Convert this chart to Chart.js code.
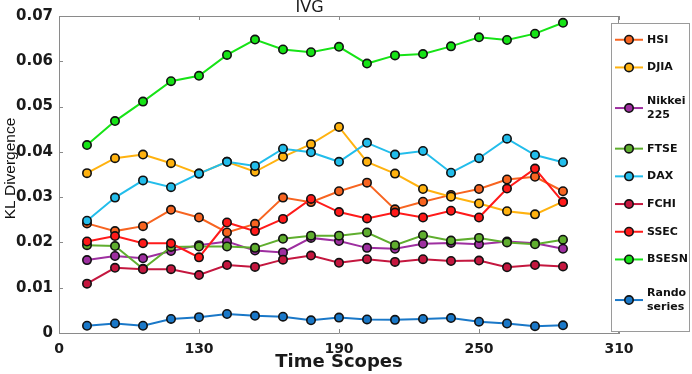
<!DOCTYPE html>
<html><head><meta charset="utf-8">
<script src="https://cdn.jsdelivr.net/npm/chart.js@4.4.0/dist/chart.umd.min.js"></script>
<style>html,body{margin:0;padding:0;background:#fff}canvas{display:block}</style>
</head><body>
<canvas id="c" width="692" height="374"></canvas>
<script>
// ---- data ----
const timeScopes = [82, 94, 106, 118, 130, 142, 154, 166, 178, 190, 202, 214, 226, 238, 250, 262, 274, 286];
const xTickValues = [70, 130, 190, 250, 310];
const xTickLabels = ['0', '130', '190', '250', '310'];
const yTickValues = [0, 0.01, 0.02, 0.03, 0.04, 0.05, 0.06, 0.07];
const yTickLabels = ['0', '0.01', '0.02', '0.03', '0.04', '0.05', '0.06', '0.07'];
const seriesNames = ['HSI', 'DJIA', 'Nikkei 225', 'FTSE', 'DAX', 'FCHI', 'SSEC', 'BSESN', 'Rando series'];

const hsi    = [0.0242,0.0225,0.0236,0.0272,0.0255,0.0222,0.0241,0.0299,0.0289,0.0313,0.0332,0.0273,0.0290,0.0305,0.0318,0.0339,0.0345,0.0313];
const djia   = [0.0353,0.0386,0.0394,0.0375,0.0352,0.0378,0.0356,0.0389,0.0417,0.0455,0.0378,0.0352,0.0318,0.0301,0.0286,0.0269,0.0262,0.0290];
const nikkei = [0.0161,0.0170,0.0165,0.0181,0.0194,0.0202,0.0182,0.0178,0.0210,0.0203,0.0188,0.0186,0.0197,0.0199,0.0196,0.0202,0.0198,0.0186];
const ftse   = [0.0194,0.0192,0.0142,0.0190,0.0191,0.0191,0.0188,0.0208,0.0215,0.0215,0.0222,0.0194,0.0216,0.0204,0.0210,0.0200,0.0196,0.0206];
const dax    = [0.0248,0.0299,0.0337,0.0322,0.0352,0.0378,0.0369,0.0407,0.0399,0.0378,0.0420,0.0394,0.0402,0.0354,0.0386,0.0429,0.0393,0.0377];
const fchi   = [0.0109,0.0144,0.0141,0.0141,0.0128,0.0150,0.0146,0.0162,0.0171,0.0155,0.0163,0.0157,0.0163,0.0159,0.0160,0.0145,0.0150,0.0147];
const ssec   = [0.0202,0.0214,0.0198,0.0198,0.0167,0.0244,0.0225,0.0252,0.0296,0.0267,0.0253,0.0266,0.0255,0.0270,0.0255,0.0319,0.0363,0.0289];
const bsesn  = [0.0415,0.0468,0.0511,0.0556,0.0568,0.0614,0.0648,0.0626,0.0620,0.0632,0.0595,0.0613,0.0616,0.0633,0.0653,0.0647,0.0661,0.0685];
const randomSeries = [0.0016,0.0021,0.0016,0.0031,0.0035,0.0042,0.0038,0.0036,0.0028,0.0034,0.0030,0.0029,0.0031,0.0033,0.0025,0.0021,0.0015,0.0017];

const seriesValues = [hsi, djia, nikkei, ftse, dax, fchi, ssec, bsesn, randomSeries];
const seriesColors = ['#F76420', '#FFB20F', '#9E2FA0', '#5FAE2E', '#22BDEB', '#C4173F', '#FF1A1A', '#16E316', '#1A78C8'];

// ---- chart ----
const N = seriesValues.length;
const datasets = seriesValues.map((vals, i) => ({
  label: seriesNames[i],
  data: vals.map((v, k) => ({x: timeScopes[k], y: v})),
  borderColor: seriesColors[i],
  backgroundColor: seriesColors[i],
  pointBackgroundColor: seriesColors[i],
  pointBorderColor: '#111',
  pointBorderWidth: 1.6,
  pointRadius: 4.2,
  borderWidth: 2,
  tension: 0,
  order: N - i
}));

const GRAY = '#8a8a8a';

const framePlugin = {
  id: 'frame',
  beforeDatasetsDraw(chart) {
    const {ctx, chartArea: a, scales} = chart;
    ctx.save();
    ctx.strokeStyle = GRAY; ctx.lineWidth = 1;
    ctx.beginPath();
    ctx.moveTo(a.left, a.top + 0.5); ctx.lineTo(a.right, a.top + 0.5);
    ctx.moveTo(a.right - 0.5, a.top); ctx.lineTo(a.right - 0.5, a.bottom);
    xTickValues.forEach(v => {
      const px = Math.round(scales.x.getPixelForValue(v)) + 0.5;
      ctx.moveTo(px, a.bottom); ctx.lineTo(px, a.bottom - 4);
      ctx.moveTo(px, a.top); ctx.lineTo(px, a.top + 4);
    });
    yTickValues.forEach(v => {
      const py = Math.round(scales.y.getPixelForValue(v)) + 0.5;
      ctx.moveTo(a.left, py); ctx.lineTo(a.left + 4, py);
      ctx.moveTo(a.right, py); ctx.lineTo(a.right - 4, py);
    });
    ctx.stroke();
    ctx.restore();
  }
};

const yTitlePlugin = {
  id: 'yTitle',
  afterDraw(chart) {
    const {ctx, chartArea: a} = chart;
    ctx.save();
    ctx.translate(15, (a.top + a.bottom) / 2 - 6);
    ctx.rotate(-Math.PI / 2);
    ctx.font = '15.5px "Liberation Sans", Arial, sans-serif';
    ctx.fillStyle = '#111';
    ctx.textAlign = 'center';
    ctx.textBaseline = 'alphabetic';
    ctx.fillText('KL Divergence', 0, 0);
    ctx.restore();
  }
};

const legendPlugin = {
  id: 'boxLegend',
  afterDraw(chart) {
    const ctx = chart.ctx;
    ctx.save();
    const bx = 611.5, by = 23.5, bw = 78, bh = 308;
    ctx.fillStyle = '#fff';
    ctx.fillRect(bx, by, bw, bh);
    ctx.strokeStyle = '#9a9a9a'; ctx.lineWidth = 1;
    ctx.strokeRect(bx, by, bw, bh);
    let top = 25.9;
    chart.data.datasets.forEach(ds => {
      const lines = ds.label.indexOf(' ') >= 0 ? ds.label.split(' ') : [ds.label];
      const h = lines.length > 1 ? 53.5 : 27.7;
      const cy = top + h / 2;
      ctx.strokeStyle = ds.borderColor; ctx.lineWidth = 2;
      ctx.beginPath(); ctx.moveTo(615, cy); ctx.lineTo(643, cy); ctx.stroke();
      ctx.beginPath(); ctx.arc(629, cy, 4.2, 0, Math.PI * 2);
      ctx.fillStyle = ds.pointBackgroundColor; ctx.fill();
      ctx.strokeStyle = '#111'; ctx.lineWidth = 1.6; ctx.stroke();
      ctx.font = 'bold 11px "DejaVu Sans", sans-serif';
      ctx.fillStyle = '#111';
      ctx.textAlign = 'left'; ctx.textBaseline = 'middle';
      const lh = 13.3;
      lines.forEach((t, j) => {
        ctx.fillText(t, 647, cy + (j - (lines.length - 1) / 2) * lh);
      });
      top += h;
    });
    ctx.restore();
  }
};

new Chart(document.getElementById('c'), {
  type: 'line',
  data: {datasets},
  options: {
    responsive: false,
    animation: false,
    devicePixelRatio: 1,
    layout: {padding: {left: 0, right: 73, top: 0, bottom: 0}},
    plugins: {
      legend: {display: false},
      tooltip: {enabled: false},
      title: {
        display: true, text: 'IVG', color: '#1a1a1a',
        font: {family: '"DejaVu Sans", sans-serif', size: 16, weight: 'normal', lineHeight: 1.0},
        padding: {top: 0, bottom: 0}
      }
    },
    scales: {
      x: {
        type: 'linear', min: 70, max: 310,
        afterBuildTicks: s => { s.ticks = xTickValues.map(v => ({value: v})); },
        afterFit: s => { s.height = 41; },
        grid: {display: false, drawTicks: false},
        border: {display: true, color: GRAY, width: 1},
        ticks: {
          autoSkip: false, maxRotation: 0, padding: 8, color: '#1a1a1a',
          font: {family: '"DejaVu Sans", sans-serif', size: 14, weight: 'bold'},
          callback: (v, i) => xTickLabels[i]
        },
        title: {
          display: true, text: 'Time Scopes', color: '#1a1a1a',
          font: {family: '"DejaVu Sans", sans-serif', size: 18, weight: 'bold'},
          padding: {top: 0, bottom: 1}
        }
      },
      y: {
        type: 'linear', min: 0, max: 0.07,
        afterBuildTicks: s => { s.ticks = yTickValues.map(v => ({value: v})); },
        afterFit: s => { s.width = 59; },
        grid: {display: false, drawTicks: false},
        border: {display: true, color: GRAY, width: 1},
        ticks: {
          padding: 6, color: '#1a1a1a',
          font: {family: '"DejaVu Sans", sans-serif', size: 15, weight: 'bold'},
          callback: (v, i) => yTickLabels[i]
        },
        title: {display: false}
      }
    }
  },
  plugins: [framePlugin, yTitlePlugin, legendPlugin]
});
</script>
</body></html>
